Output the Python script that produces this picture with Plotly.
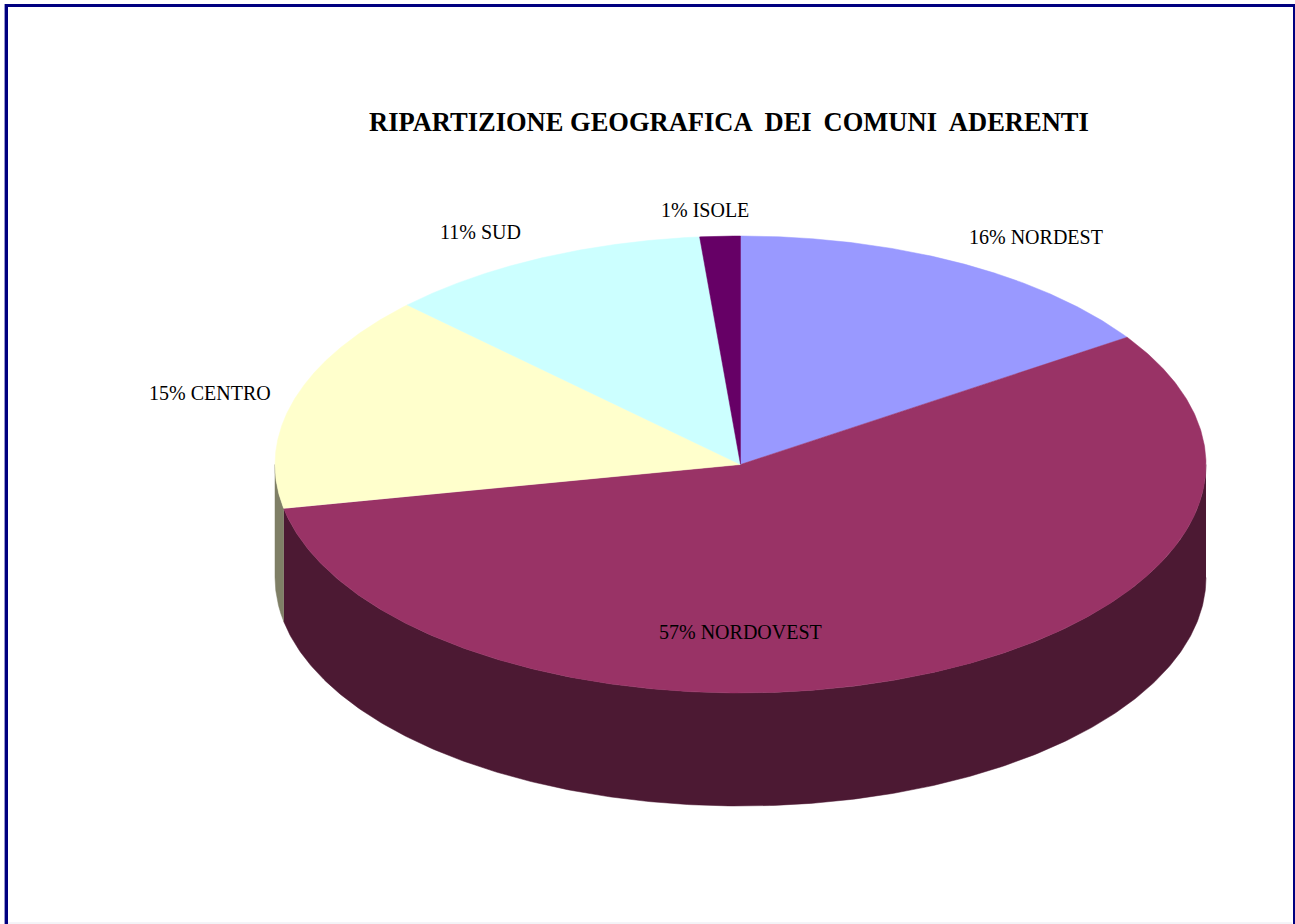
import numpy as np
import plotly.graph_objects as go

# Data
categories = ["NORDEST", "NORDOVEST", "CENTRO", "SUD", "ISOLE"]
values = [15.6, 56.3, 15.4, 11.3, 1.4]
percent_labels = ["16%", "57%", "15%", "11%", "1%"]
title_text = "RIPARTIZIONE GEOGRAFICA\u00a0\u2009DEI\u00a0\u2009COMUNI\u00a0\u2009ADERENTI"

# Styles
top_colors = ["#9999FF", "#993366", "#FFFFCC", "#CCFFFF", "#660066"]
wall_colors = ["#4D4D80", "#4C1933", "#7F7F66", "#668080", "#330033"]
label_xy = [(1036, 236.5), (740, 632), (210, 393), (480, 232), (704.5, 209.5)]
CX, CY, RX, RY, DEPTH = 740.5, 464.5, 465.5, 228.5, 113
FONT = "Liberation Serif"
W, H = 1295, 924


def ex(t):
    return CX + RX * np.sin(np.radians(t))


def ey(t):
    return CY - RY * np.cos(np.radians(t))


fig = go.Figure()
edges = np.concatenate([[0], np.cumsum(values)]) / sum(values) * 360

# Side walls: the front half of the rim only
for i in range(len(values)):
    a, b = max(edges[i], 90), min(edges[i + 1], 270)
    if a >= b:
        continue
    t = np.linspace(a, b, 300)
    xs = np.concatenate([ex(t), ex(t[::-1])])
    ys = np.concatenate([ey(t), ey(t[::-1]) + DEPTH])
    fig.add_trace(go.Scatter(x=xs, y=ys, mode="lines", fill="toself",
                             fillcolor=wall_colors[i], line=dict(width=0.5, color=wall_colors[i]),
                             hoverinfo="skip", showlegend=False))

# Top faces
for i in range(len(values)):
    t = np.linspace(edges[i], edges[i + 1], 400)
    xs = np.concatenate([[CX], ex(t), [CX]])
    ys = np.concatenate([[CY], ey(t), [CY]])
    fig.add_trace(go.Scatter(x=xs, y=ys, mode="lines", fill="toself",
                             fillcolor=top_colors[i], line=dict(width=0.5, color=top_colors[i]),
                             name=categories[i], showlegend=False))

# Labels
for (lx, ly), p, c in zip(label_xy, percent_labels, categories):
    fig.add_annotation(x=lx, y=ly, text=f"{p} {c}", showarrow=False,
                       font=dict(family=FONT, size=20, color="#000000"))
fig.add_annotation(x=728.5, y=122, text=f"<b>{title_text}</b>", showarrow=False,
                   font=dict(family=FONT, size=26.5, color="#000000"))

fig.update_layout(
    width=W, height=H, margin=dict(l=0, r=0, t=0, b=0),
    paper_bgcolor="#FFFFFF", plot_bgcolor="#FFFFFF",
    xaxis=dict(range=[0, W], visible=False, fixedrange=True),
    yaxis=dict(range=[H, 0], visible=False, fixedrange=True),
    shapes=[
        dict(type="line", xref="x", yref="y", x0=6.5, y0=5.5, x1=6.5, y1=H, line=dict(color="#000080", width=3)),
        dict(type="line", xref="x", yref="y", x0=5, y0=5.5, x1=W, y1=5.5, line=dict(color="#000080", width=3)),
        dict(type="line", xref="x", yref="y", x0=4.5, y0=4, x1=4.5, y1=H, line=dict(color="#9999CC", width=1)),
        dict(type="line", xref="x", yref="y", x0=1294, y0=4, x1=1294, y1=H, line=dict(color="#000080", width=2)),
        dict(type="line", xref="x", yref="y", x0=8, y0=923, x1=1292, y1=923, line=dict(color="#E8E8F0", width=1)),
    ],
)

fig.write_html("out.html", config={"displayModeBar": False},
               post_script="document.body.style.margin='0';document.body.style.overflow='hidden';")
